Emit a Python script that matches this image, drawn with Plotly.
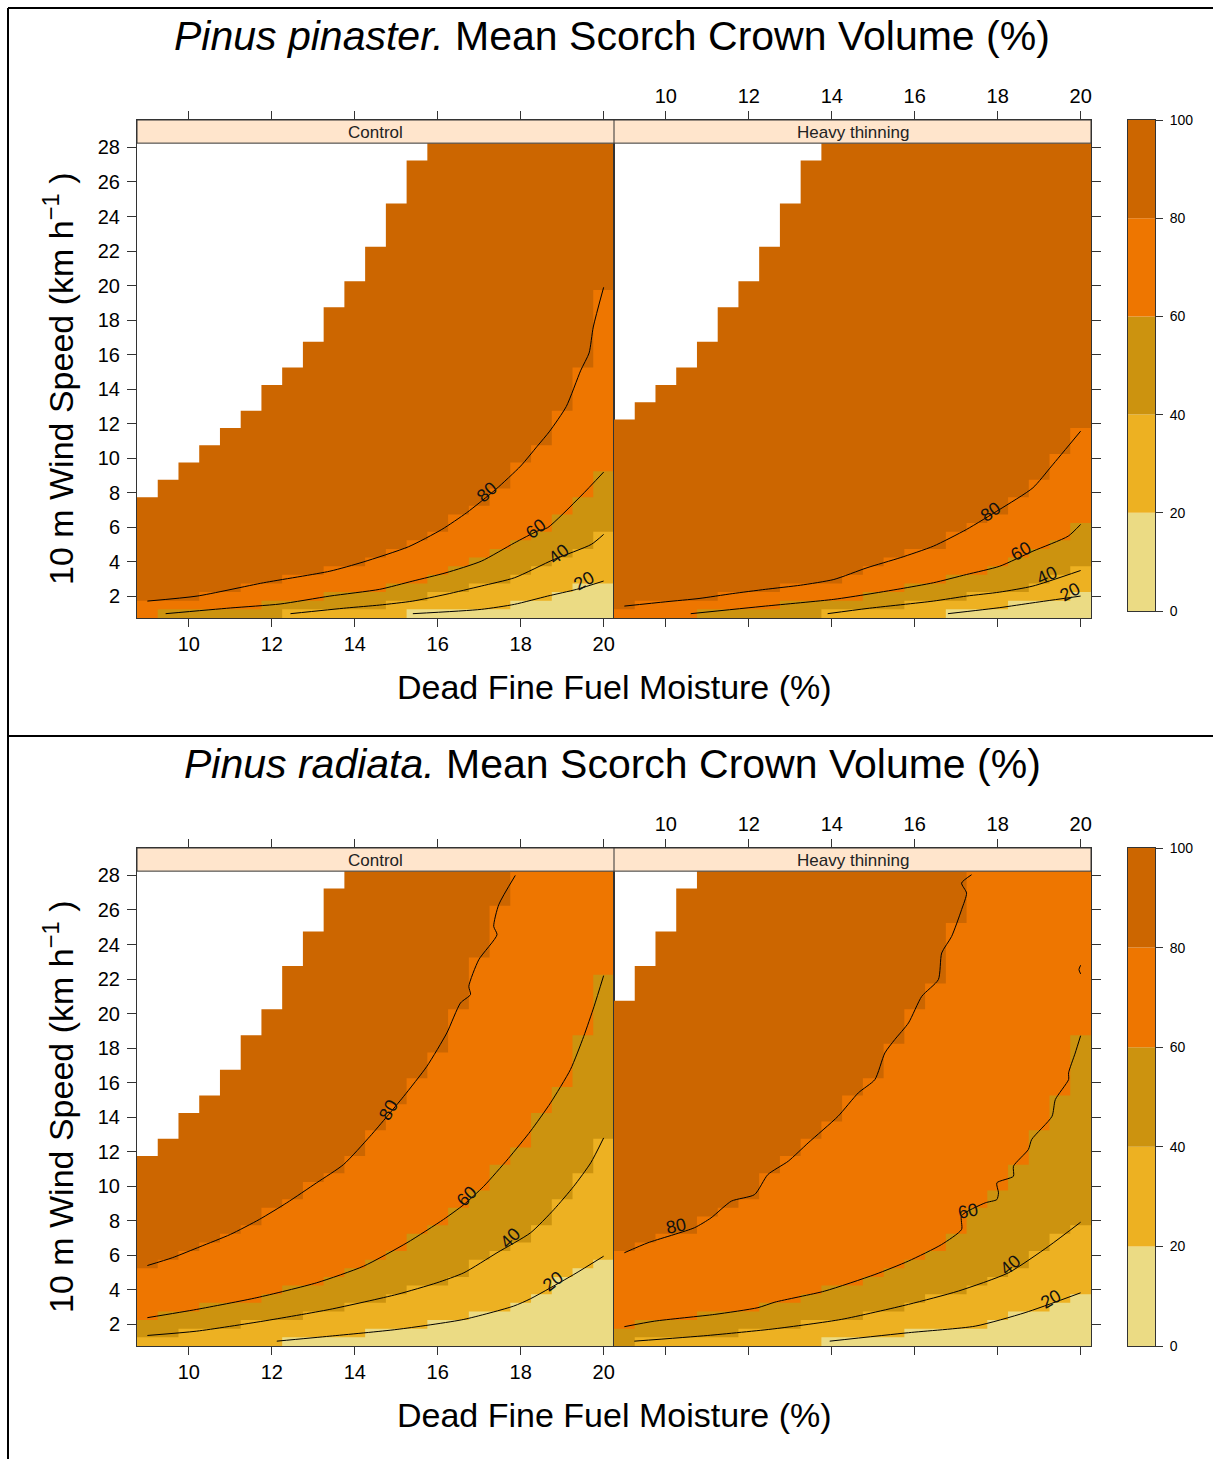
import numpy as np
import plotly.graph_objects as go

W, H = 1213, 1459
FONT = "Liberation Sans, Arial, sans-serif"

# ---------------- class colours (0-20, 20-40, 40-60, 60-80, 80-100) ----------------
C0, C20, C40, C60, C80 = "#EBDB84", "#EDB122", "#CC930F", "#EE7600", "#CC6600"
key_colors = [C0, C20, C40, C60, C80]
key_levels = [0, 20, 40, 60, 80, 100]

# ---------------- grid (cell centres) ----------------
moist_cols = [9.0, 9.5, 10.0, 10.5, 11.0, 11.5, 12.0, 12.5, 13.0, 13.5, 14.0, 14.5,
              15.0, 15.5, 16.0, 16.5, 17.0, 17.5, 18.0, 18.5, 19.0, 19.5, 20.0]
wind_rows = np.arange(1.0, 28.01, 0.5)
x_ticks = [10, 12, 14, 16, 18, 20]
y_ticks = [2, 4, 6, 8, 10, 12, 14, 16, 18, 20, 22, 24, 26, 28]

# ---------------- Pinus pinaster, Control ----------------
ppc_top = [7.75, 8.75, 9.75, 10.75, 11.75, 12.75, 14.25, 15.25, 16.75, 18.75, 20.25, 22.25,
           24.75, 27.25, 28.25, 28.25, 28.25, 28.25, 28.25, 28.25, 28.25, 28.25, 28.25]
ppc_80x = [9.0, 10.2, 11.8, 13.4, 14.2, 15.3, 16.1, 16.7, 17.4, 18.0, 18.4, 18.7, 19.1, 19.45, 19.65, 19.75, 20.0]
ppc_80y = [1.73, 2.02, 2.79, 3.46, 3.99, 4.88, 5.88, 6.85, 8.2, 9.55, 10.7, 11.57, 13.0, 15.1, 16.1, 17.6, 19.9]
ppc_60x = [9.44, 11.0, 12.2, 13.4, 14.6, 15.4, 16.2, 17.05, 17.85, 18.4, 18.65, 19.45, 20.0]
ppc_60y = [1.0, 1.33, 1.56, 2.02, 2.41, 2.89, 3.37, 4.04, 5.1, 5.78, 5.98, 7.81, 9.2]
ppc_40x = [12.45, 13.8, 14.6, 15.4, 16.2, 17.05, 17.85, 18.8, 19.7, 20.0]
ppc_40y = [1.0, 1.33, 1.5, 1.73, 2.12, 2.6, 3.08, 4.14, 5.01, 5.59]
ppc_20x = [15.4, 17.05, 17.85, 18.65, 19.35, 20.0]
ppc_20y = [1.0, 1.25, 1.54, 2.02, 2.41, 2.89]
ppc_lab = [("80", 17.19, 8.04, -42), ("60", 18.36, 5.9, -38), ("40", 18.92, 4.43, -38), ("20", 19.52, 2.89, -30)]

# ---------------- Pinus pinaster, Heavy thinning ----------------
pph_top = [12.25, 13.25, 14.25, 15.25, 16.75, 18.75, 20.25, 22.25, 24.75, 27.25, 28.25, 28.25,
           28.25, 28.25, 28.25, 28.25, 28.25, 28.25, 28.25, 28.25, 28.25, 28.25, 28.25]
pph_80x = [9.0, 10.0, 10.8, 11.6, 12.4, 13.25, 14.05, 14.85, 15.65, 16.45, 17.25, 18.05, 18.85, 19.3, 20.0]
pph_80y = [1.44, 1.69, 1.88, 2.16, 2.41, 2.65, 2.98, 3.66, 4.24, 4.91, 5.88, 7.04, 8.29, 9.55, 11.57]
pph_60x = [10.6, 12.4, 14.05, 14.85, 15.65, 16.45, 17.25, 18.05, 18.85, 19.7, 20.0]
pph_60y = [1.0, 1.44, 1.83, 2.12, 2.44, 2.79, 3.27, 3.75, 4.62, 5.49, 6.17]
pph_40x = [13.9, 14.85, 16.45, 17.25, 18.05, 18.85, 20.0]
pph_40y = [1.0, 1.3, 1.73, 2.02, 2.25, 2.6, 3.5]
pph_20x = [16.8, 18.05, 18.85, 20.0]
pph_20y = [1.0, 1.35, 1.63, 2.02]
pph_lab = [("80", 17.83, 6.86, -35), ("60", 18.57, 4.62, -30), ("40", 19.2, 3.22, -25), ("20", 19.74, 2.25, -28)]

# ---------------- Pinus radiata, Control ----------------
prc_top = [11.75, 12.75, 14.25, 15.25, 16.75, 18.75, 20.25, 22.75, 24.75, 27.25, 28.25, 28.25,
           28.25, 28.25, 28.25, 28.25, 28.25, 28.25, 28.25, 28.25, 28.25, 28.25, 28.25]
prc_80x = [9.0, 9.6, 10.27, 11.0, 11.7, 12.36, 13.08, 13.73, 14.37, 14.78, 15.18, 15.74, 16.22,
           16.55, 16.79, 16.75, 16.99, 17.43, 17.35, 17.47, 17.87]
prc_80y = [5.41, 5.86, 6.5, 7.21, 8.08, 9.04, 10.2, 11.26, 12.9, 14.05, 15.21, 16.95, 18.88,
           20.62, 21.1, 21.58, 23.12, 24.57, 25.05, 26.3, 28.0]
prc_60x = [9.0, 10.19, 11.64, 13.08, 14.21, 15.26, 16.14, 16.63, 17.11, 17.7, 18.24, 18.72, 19.2, 19.52, 19.77, 20.0]
prc_60y = [2.39, 2.87, 3.55, 4.41, 5.37, 6.73, 8.08, 8.94, 10.0, 11.6, 13.2, 14.83, 16.76, 18.68, 20.42, 22.2]
prc_40x = [9.0, 10.19, 11.79, 13.4, 15.02, 15.98, 16.63, 17.43, 18.24, 18.8, 19.28, 19.69, 20.0]
prc_40y = [1.36, 1.61, 2.19, 2.87, 3.74, 4.41, 4.99, 6.15, 7.31, 8.65, 10.0, 11.36, 12.8]
prc_20x = [12.12, 13.4, 15.02, 16.63, 17.83, 18.24, 19.28, 20.0]
prc_20y = [1.03, 1.32, 1.71, 2.29, 3.06, 3.49, 4.89, 5.95]
prc_lab = [("80", 14.81, 14.44, -60), ("60", 16.71, 9.42, -45), ("40", 17.75, 7.02, -45), ("20", 18.79, 4.51, -38)]

# ---------------- Pinus radiata, Heavy thinning ----------------
prh_top = [20.75, 22.75, 24.75, 27.25, 28.25, 28.25, 28.25, 28.25, 28.25, 28.25, 28.25, 28.25,
           28.25, 28.25, 28.25, 28.25, 28.25, 28.25, 28.25, 28.25, 28.25, 28.25, 28.25]
prh_80x = [9.0, 9.57, 10.69, 11.09, 11.58, 12.14, 12.46, 12.95, 13.43, 14.15, 14.64, 15.04, 15.28,
           15.52, 15.85, 16.17, 16.57, 16.65, 16.89, 17.13, 17.25, 17.13, 17.37]
prh_80y = [6.15, 6.73, 7.6, 8.17, 9.14, 9.52, 10.68, 11.45, 12.51, 14.05, 15.41, 16.18, 17.72,
           18.5, 19.46, 21.0, 21.97, 23.51, 24.47, 26.02, 26.98, 27.56, 28.04]
prh_60x = [9.0, 9.73, 11.18, 12.22, 12.63, 13.83, 15.04, 15.85, 16.65, 17.13, 17.13, 17.7, 17.98,
           18.02, 17.98, 18.38, 18.38, 18.74, 18.82, 19.31, 19.39, 19.71, 19.71, 19.87, 20.0]
prh_60y = [1.87, 2.19, 2.58, 2.97, 3.29, 3.93, 4.89, 5.67, 6.63, 7.5, 8.3, 9.04, 9.23,
           9.62, 10.2, 10.58, 11.16, 12.13, 12.71, 14.05, 15.02, 16.18, 16.57, 17.72, 18.72]
prh_40x = [9.24, 11.01, 12.63, 14.23, 15.85, 17.05, 18.26, 19.23, 20.0]
prh_40y = [1.03, 1.36, 1.75, 2.29, 3.16, 3.93, 4.99, 6.53, 7.92]
prh_20x = [13.95, 15.85, 17.46, 18.66, 20.0]
prh_20y = [1.03, 1.52, 1.9, 2.68, 3.83]
prh_60bx = [20.0, 19.96, 20.0]
prh_60by = [22.3, 22.55, 22.8]
prh_lab = [("80", 10.25, 7.69, -12), ("60", 17.29, 8.56, -12), ("40", 18.3, 5.47, -40), ("20", 19.29, 3.45, -30)]

# ---------------- layout geometry ----------------
XR = [8.75, 20.25]
YR = [0.75, 29.59]
STRIP_LO = 28.25


def pxx(v):
    return v / W


def pyy(v):
    return 1 - v / H


CELL_W = moist_cols[1] - moist_cols[0]
x_edges = [c - CELL_W / 2 for c in moist_cols] + [moist_cols[-1] + CELL_W / 2]
Y0 = wind_rows[0] - 0.25


def heights_below(lx, ly, top):
    order = np.argsort(lx, kind="stable")
    xs = np.asarray(lx, float)[order]
    ys = np.asarray(ly, float)[order]
    out = []
    for i, xc in enumerate(moist_cols):
        if xc < xs[0] - 1e-9:
            c = 0.0 if ys[0] < 1.2 else ys[0]
        elif xc > xs[-1] + 1e-9:
            c = 99.0 if ys[-1] > 27 else ys[-1]
        else:
            c = float(np.interp(xc, xs, ys))
        n = int(np.sum(wind_rows <= c + 1e-9))
        out.append(min(Y0 + 0.5 * n, top[i]))
    return out


def step_polygon(h):
    xs, ys = [x_edges[0]], [Y0]
    for i in range(len(h)):
        xs += [x_edges[i], x_edges[i + 1]]
        ys += [h[i], h[i]]
    xs += [x_edges[-1], x_edges[0]]
    ys += [Y0, Y0]
    return xs, ys


fig = go.Figure()
annotations = []
shapes = []


def add_panel(xa, ya, top, lines, labels, strip_text, extra_lines=()):
    xs, ys = step_polygon(top)
    fig.add_trace(go.Scatter(x=xs, y=ys, fill="toself", fillcolor=C80, mode="lines",
                             line=dict(width=0, color=C80), hoverinfo="skip",
                             showlegend=False, xaxis=xa, yaxis=ya))
    for (lx, ly), col in zip(lines, [C60, C40, C20, C0]):
        h = heights_below(lx, ly, top)
        xs, ys = step_polygon(h)
        fig.add_trace(go.Scatter(x=xs, y=ys, fill="toself", fillcolor=col, mode="lines",
                                 line=dict(width=0, color=col), hoverinfo="skip",
                                 showlegend=False, xaxis=xa, yaxis=ya))
    for lx, ly in list(lines) + list(extra_lines):
        fig.add_trace(go.Scatter(x=lx, y=ly, mode="lines",
                                 line=dict(color="black", width=1, shape="spline", smoothing=0.6),
                                 hoverinfo="skip", showlegend=False, xaxis=xa, yaxis=ya))
    for t, lx, ly, ang in labels:
        annotations.append(dict(x=lx, y=ly, xref=xa, yref=ya, text=t, showarrow=False,
                                xanchor="center", yanchor="middle", textangle=ang,
                                font=dict(family=FONT, size=18, color="#111111")))
    shapes.append(dict(type="rect", xref=xa, yref=ya, x0=XR[0], x1=XR[1], y0=STRIP_LO, y1=YR[1],
                       fillcolor="#FFE5CC", line=dict(color="#333333", width=1), layer="above"))
    annotations.append(dict(x=(XR[0] + XR[1]) / 2, y=(STRIP_LO + YR[1]) / 2 - 0.05, xref=xa, yref=ya,
                            text=strip_text, showarrow=False, xanchor="center", yanchor="middle",
                            font=dict(family=FONT, size=17, color="#222222")))


add_panel("x", "y", ppc_top, [(ppc_80x, ppc_80y), (ppc_60x, ppc_60y), (ppc_40x, ppc_40y), (ppc_20x, ppc_20y)],
          ppc_lab, "Control")
add_panel("x2", "y2", pph_top, [(pph_80x, pph_80y), (pph_60x, pph_60y), (pph_40x, pph_40y), (pph_20x, pph_20y)],
          pph_lab, "Heavy thinning")
add_panel("x3", "y3", prc_top, [(prc_80x, prc_80y), (prc_60x, prc_60y), (prc_40x, prc_40y), (prc_20x, prc_20y)],
          prc_lab, "Control")
add_panel("x4", "y4", prh_top, [(prh_80x, prh_80y), (prh_60x, prh_60y), (prh_40x, prh_40y), (prh_20x, prh_20y)],
          prh_lab, "Heavy thinning", extra_lines=[(prh_60bx, prh_60by)])

# colour keys
for xa, ya in [("x5", "y5"), ("x6", "y6")]:
    fig.add_trace(go.Bar(x=[0] * 5, y=[key_levels[i + 1] - key_levels[i] for i in range(5)],
                         base=key_levels[:5], marker=dict(color=key_colors, line=dict(width=0)),
                         width=1, hoverinfo="skip", showlegend=False, xaxis=xa, yaxis=ya))

AX_COL = "#333333"
tick_font = dict(family=FONT, size=20, color="black")


def xaxis(dom, anchor, side, labels):
    return dict(domain=dom, range=XR, anchor=anchor, side=side, showline=True, linecolor=AX_COL,
                linewidth=1, mirror="ticks", ticks="outside", ticklen=8, tickcolor=AX_COL,
                tickvals=x_ticks, showticklabels=labels, tickfont=tick_font, showgrid=False,
                zeroline=False, fixedrange=True, automargin=False)


def yaxis(dom, anchor, side, labels):
    return dict(domain=dom, range=YR, anchor=anchor, side=side, showline=True, linecolor=AX_COL,
                linewidth=1, mirror=True, ticks="outside", ticklen=9, tickcolor=AX_COL,
                tickvals=y_ticks, showticklabels=labels, tickfont=tick_font, showgrid=False,
                zeroline=False, fixedrange=True, ticklabelstandoff=3, automargin=False)


LX = [pxx(137), pxx(614)]
RX = [pxx(614), pxx(1091)]
TOPY = [pyy(618), pyy(120)]
BOTY = [pyy(1346), pyy(848)]

layout = dict(
    width=W, height=H, autosize=False, margin=dict(l=0, r=0, t=0, b=0, pad=0, autoexpand=False),
    paper_bgcolor="white", plot_bgcolor="white", showlegend=False,
    xaxis=xaxis(LX, "y", "bottom", True), yaxis=yaxis(TOPY, "x", "left", True),
    xaxis2=xaxis(RX, "y2", "top", True), yaxis2=yaxis(TOPY, "x2", "right", False),
    xaxis3=xaxis(LX, "y3", "bottom", True), yaxis3=yaxis(BOTY, "x3", "left", True),
    xaxis4=xaxis(RX, "y4", "top", True), yaxis4=yaxis(BOTY, "x4", "right", False),
)
for n, dom in [(5, [pyy(611), pyy(120)]), (6, [pyy(1346), pyy(848)])]:
    layout[f"xaxis{n}"] = dict(domain=[pxx(1128), pxx(1155)], range=[-0.5, 0.5], anchor=f"y{n}",
                               showline=True, mirror=True, linecolor=AX_COL, linewidth=1,
                               showticklabels=False, ticks="", showgrid=False, zeroline=False,
                               fixedrange=True, automargin=False)
    layout[f"yaxis{n}"] = dict(domain=dom, range=[0, 100], anchor=f"x{n}", side="right",
                               showline=True, mirror=True, linecolor=AX_COL, linewidth=1,
                               ticks="outside", ticklen=7, tickcolor=AX_COL, tickvals=key_levels,
                               tickfont=dict(family=FONT, size=14, color="black"),
                               ticklabelstandoff=4,
                               showgrid=False, zeroline=False, fixedrange=True, automargin=False)

# titles
for yc, sp in [(36, "Pinus pinaster."), (764, "Pinus radiata.")]:
    annotations.append(dict(x=pxx(612), y=pyy(yc), xref="paper", yref="paper", showarrow=False,
                            xanchor="center", yanchor="middle",
                            text=f"<i>{sp}</i> Mean Scorch Crown Volume (%)",
                            font=dict(family=FONT, size=41, color="black")))
for yc in [687, 1415]:
    annotations.append(dict(x=pxx(614), y=pyy(yc), xref="paper", yref="paper", showarrow=False,
                            xanchor="center", yanchor="middle",
                            text="Dead Fine Fuel Moisture (%)",
                            font=dict(family=FONT, size=34, color="black")))
for yc in [379, 1107]:
    annotations.append(dict(x=pxx(58), y=pyy(yc), xref="paper", yref="paper", showarrow=False,
                            xanchor="center", yanchor="middle",
                            textangle=-90, text="10 m Wind Speed (km h<sup>\u22121</sup> )",
                            font=dict(family=FONT, size=34, color="black")))

# page frame lines
shapes += [
    dict(type="line", xref="paper", yref="paper", x0=pxx(8), x1=1, y0=pyy(8), y1=pyy(8),
         line=dict(color="black", width=2)),
    dict(type="line", xref="paper", yref="paper", x0=pxx(8), x1=pxx(8), y0=pyy(8), y1=0,
         line=dict(color="black", width=2)),
    dict(type="line", xref="paper", yref="paper", x0=pxx(8), x1=1, y0=pyy(736), y1=pyy(736),
         line=dict(color="black", width=2)),
]

layout["annotations"] = annotations
layout["shapes"] = shapes
fig.update_layout(**layout)

post = ("document.documentElement.style.margin='0';document.body.style.margin='0';"
        "document.body.style.padding='0';document.documentElement.style.overflow='hidden';"
        "document.body.style.overflow='hidden';")
fig.write_html("out.html", post_script=post, config={"responsive": False, "displayModeBar": False})
